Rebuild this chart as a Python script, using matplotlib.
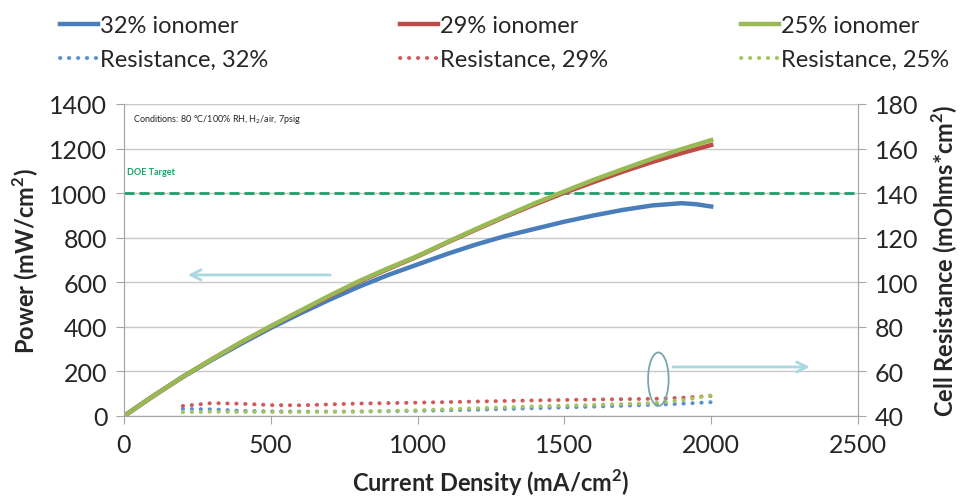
import matplotlib
matplotlib.use("Agg")
import matplotlib.pyplot as plt
from matplotlib.patches import Ellipse

plt.rcParams["font.family"] = ["Lato", "DejaVu Sans"]

# power curves (mW/cm2) vs current density (mA/cm2)
current = [0, 100, 200, 300, 400, 500, 600, 700, 800, 900, 1000, 1100, 1200,
           1300, 1400, 1500, 1600, 1700, 1800, 1900, 1950, 2000]
power_32 = [0, 90, 175, 252, 325, 395, 460, 522, 580, 633, 680, 727, 770,
            808, 840, 872, 900, 925, 945, 955, 950, 940]
power_29 = [0, 90, 176, 255, 331, 402, 470, 537, 602, 660, 716, 778, 837,
            895, 950, 1002, 1050, 1097, 1140, 1180, 1198, 1216]
power_25 = [0, 90, 176, 255, 332, 403, 472, 540, 605, 663, 718, 780, 840,
            898, 955, 1008, 1060, 1108, 1155, 1198, 1218, 1238]

# cell resistance (mOhms*cm2)
res_current = [200, 300, 400, 500, 600, 700, 800, 1000, 1200, 1400, 1600, 1800, 1900, 2000]
res_32 = [43.2, 43.0, 42.3, 42.1, 42.0, 42.0, 42.0, 42.3, 42.8, 43.5, 44.2, 45.0, 45.5, 46.2]
res_29 = [44.5, 45.8, 45.5, 44.9, 44.8, 45.2, 45.6, 46.0, 46.5, 47.0, 47.4, 47.7, 48.2, 49.0]
res_25 = [41.7, 41.9, 41.8, 41.8, 41.8, 41.9, 42.0, 42.6, 43.5, 44.3, 45.0, 45.8, 47.0, 49.3]

DOE_TARGET = 1000

BLUE = "#4a7ebb"
RED = "#be4b48"
GREEN = "#98b954"
GRAY = "#a6a6a6"
TEXT = "#262626"

fig = plt.figure(figsize=(9.62, 5.02), dpi=100)
ax = fig.add_axes([124 / 962, 85 / 502, 734 / 962, 312 / 502])
ax2 = ax.twinx()

ax.plot(current, power_32, color=BLUE, lw=3.2, label="32% ionomer", zorder=3)
ax.plot(current, power_29, color=RED, lw=3.2, label="29% ionomer", zorder=3)
ax.plot(current, power_25, color=GREEN, lw=3.2, label="25% ionomer", zorder=3)
ax.axhline(DOE_TARGET, color="#1f9e6a", lw=2, ls=(0, (3.6, 1.8)), zorder=2)

dot = dict(lw=2.8, ls=(0, (0.1, 2.2)), dash_capstyle="round", solid_capstyle="round")
ax2.plot(res_current, res_32, color="#5a8fd0", label="Resistance, 32%", **dot)
ax2.plot(res_current, res_29, color="#cf5a57", label="Resistance, 29%", **dot)
ax2.plot(res_current, res_25, color="#a3c45f", label="Resistance, 25%", **dot)

ax.set_xlim(0, 2500)
ax.set_ylim(0, 1400)
ax2.set_ylim(40, 180)
ax.set_xticks(range(0, 2501, 500))
ax.set_yticks(range(0, 1401, 200))
ax2.set_yticks(range(40, 181, 20))

ax.yaxis.grid(True, color="#c8c8c8", lw=1)
ax.set_axisbelow(True)
for a in (ax, ax2):
    a.spines["top"].set_visible(False)
    for s in ("left", "right", "bottom"):
        a.spines[s].set_color(GRAY)
    a.tick_params(axis="both", direction="out", length=6, color=GRAY,
                  labelsize=18, labelcolor=TEXT, pad=6)

ax.set_xlabel("Current Density (mA/cm$^{\\mathregular{2}}$)", fontsize=17,
              fontweight="bold", color=TEXT, labelpad=8)
ax.set_ylabel("Power (mW/cm$^{\\mathregular{2}}$)", fontsize=17,
              fontweight="bold", color=TEXT, labelpad=6)
ax2.set_ylabel("Cell Resistance (mOhms*cm$^{\\mathregular{2}}$)", fontsize=17,
               fontweight="bold", color=TEXT, labelpad=8)

ax.text(0.012, 0.975, "Conditions: 80 \u00b0C/100% RH, H$_{\\mathregular{2}}$/air, 7psig",
        transform=ax.transAxes, fontsize=6.5, color=TEXT, va="top")
ax.text(10, 1085, "DOE Target", fontsize=6.5, color="#1f9e6a", fontweight="bold")

# annotations pointing to the axes
arrow = dict(arrowstyle="->", color="#a9d8de", lw=2, mutation_scale=18)
ax.annotate("", xy=(208, 633), xytext=(712, 633), arrowprops=arrow)
ax2.annotate("", xy=(2345, 62), xytext=(1860, 62), arrowprops=arrow)
ax2.add_patch(Ellipse((1820, 56.5), 70, 24, fill=False, ec="#79a6aa", lw=1.3, zorder=4))

h1, l1 = ax.get_legend_handles_labels()
h2, l2 = ax2.get_legend_handles_labels()
handles = [h1[0], h2[0], h1[1], h2[1], h1[2], h2[2]]
labels = [l1[0], l2[0], l1[1], l2[1], l1[2], l2[2]]
fig.legend(handles, labels, ncol=3, loc="upper left", bbox_to_anchor=(0.04, 1.01),
           frameon=False, fontsize=17, handlelength=1.6, handletextpad=0.1,
           columnspacing=5.6, labelspacing=0.55, labelcolor=TEXT)

fig.savefig("out.png", dpi=100)
